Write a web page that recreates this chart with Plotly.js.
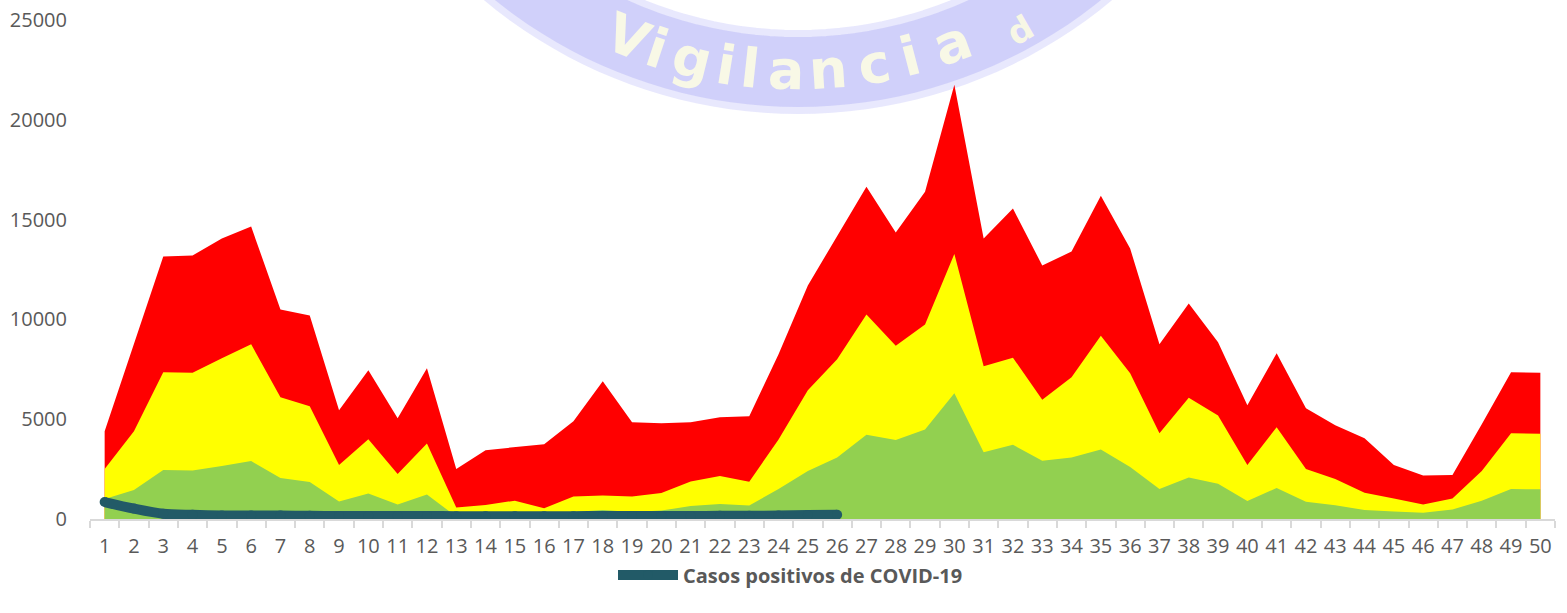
<!DOCTYPE html>
<html>
<head>
<meta charset="utf-8">
<script src="https://cdn.plot.ly/plotly-3.0.1.min.js"></script>
<style>html,body{margin:0;padding:0;background:#fff;}#chart{width:1567px;height:613px;}</style>
</head>
<body>
<div id="chart"></div>
<script>
// ---- data ----
const weeks = ["1","2","3","4","5","6","7","8","9","10","11","12","13","14","15","16","17","18","19","20","21","22","23","24","25","26","27","28","29","30","31","32","33","34","35","36","37","38","39","40","41","42","43","44","45","46","47","48","49","50"];
const zonaAlerta = [4400,8800,13150,13200,14050,14650,10500,10200,5450,7450,5050,7550,2500,3450,3600,3750,4900,6900,4850,4800,4850,5100,5150,8250,11700,14150,16650,14350,16400,21750,14050,15550,12700,13400,16200,13550,8750,10800,8850,5700,8300,5550,4700,4050,2700,2180,2200,4750,7350,7330];
const zonaSeguridad = [2500,4400,7350,7330,8050,8750,6100,5650,2700,4000,2250,3780,570,700,920,540,1130,1180,1130,1300,1880,2150,1870,3980,6450,8000,10250,8680,9750,13280,7650,8080,5980,7100,9180,7300,4300,6080,5180,2700,4600,2500,2000,1320,1030,730,1030,2400,4300,4270];
const zonaExito = [1000,1450,2450,2430,2650,2900,2050,1850,880,1280,730,1230,120,150,220,120,350,450,350,420,650,750,680,1500,2400,3080,4220,3960,4490,6300,3340,3720,2920,3080,3480,2600,1500,2080,1760,900,1550,860,690,450,370,310,470,920,1500,1490];
const casosCovid = [850,520,260,210,180,170,170,160,150,150,150,150,140,140,140,140,140,150,150,150,150,160,160,180,200,210];
const yTicks = [0,5000,10000,15000,20000,25000];
const legendName = "Casos positivos de COVID-19";
const watermarkLetters = ["V","i","g","i","l","a","n","c","i","a","d"];
const watermarkX = [628,657,692,726,750,786,828,874,910,952,1020];

// ---- layout geometry ----
const W = 1567, H = 613, M = {l:90, r:12, t:20, b:94};
const PW = W - M.l - M.r, PH = H - M.t - M.b;
const px2x = p => (p - M.l) / PW;
const py2y = p => (H - M.b - p) / PH;

// watermark arc (decoration)
const cx = 798, cy = -376, rBand = 448, rText = 447;
let path = "";
for (let a = -62; a <= 62; a += 2) {
  const ph = a * Math.PI / 180;
  const X = cx + rBand * Math.sin(ph), Y = cy + rBand * Math.cos(ph);
  path += (a === -62 ? "M" : "L") + px2x(X).toFixed(5) + "," + py2y(Y).toFixed(5);
}
const shapes = [
  {type:"path", xref:"paper", yref:"paper", path:path, layer:"below", line:{color:"rgba(205,205,250,0.45)", width:84}},
  {type:"path", xref:"paper", yref:"paper", path:path, layer:"below", line:{color:"rgba(200,200,248,0.75)", width:70}}
];
const annotations = watermarkLetters.map((ch, i) => {
  const ph = Math.asin((watermarkX[i] - cx) / rText);
  let Y = cy + rText * Math.cos(ph);
  let size = 54;
  if (Y < 28) { Y = 30; size = 34; }
  return {xref:"paper", yref:"paper", x:px2x(watermarkX[i]), y:py2y(Y), text:ch, showarrow:false,
    textangle: -ph * 180 / Math.PI, xanchor:"center", yanchor:"middle",
    font:{family:"DejaVu Sans", size:size, weight:"bold", color:"rgba(255,255,226,0.85)"}};
});

const traces = [
  {x:weeks, y:zonaAlerta, type:"scatter", mode:"lines", fill:"tozeroy", fillcolor:"#FF0000", line:{width:0, color:"#FF0000"}, showlegend:false, hoverinfo:"skip"},
  {x:weeks, y:zonaSeguridad, type:"scatter", mode:"lines", fill:"tozeroy", fillcolor:"#FFFF00", line:{width:0, color:"#FFFF00"}, showlegend:false, hoverinfo:"skip"},
  {x:weeks, y:zonaExito, type:"scatter", mode:"lines", fill:"tozeroy", fillcolor:"#92D050", line:{width:0, color:"#92D050"}, showlegend:false, hoverinfo:"skip"},
  {x:weeks.slice(0, casosCovid.length), y:casosCovid, type:"scatter", mode:"lines+markers", name:legendName,
   line:{color:"#225A67", width:10, shape:"spline", smoothing:0.8}, marker:{color:"#225A67", size:10}, showlegend:true}
];

const layout = {
  width:W, height:H, margin:M, paper_bgcolor:"#fff", plot_bgcolor:"rgba(0,0,0,0)",
  font:{family:"Open Sans, sans-serif", color:"#595959", size:20},
  xaxis:{type:"category", range:[-0.5, 49.5], showgrid:false, zeroline:false, tickangle:0,
    showline:true, linecolor:"#D9D9D9", linewidth:2, ticks:"outside", tickson:"boundaries",
    ticklen:7, tickcolor:"#D9D9D9", tickwidth:2, tickfont:{size:20, color:"#595959"}, ticklabelstandoff:8},
  yaxis:{range:[0, 25000], tickvals:yTicks, ticktext:yTicks.map(String), showgrid:false, zeroline:false,
    showline:false, ticks:"", tickfont:{size:20, color:"#595959"}, ticklabelstandoff:22},
  showlegend:true,
  legend:{orientation:"h", x:0.357, xanchor:"left", y:py2y(575), yanchor:"middle",
    font:{size:20, weight:"bold", color:"#595959"}, itemwidth:60, bgcolor:"rgba(0,0,0,0)"},
  shapes:shapes, annotations:annotations
};

Plotly.newPlot("chart", traces, layout, {staticPlot:true, displayModeBar:false});
</script>
</body>
</html>
